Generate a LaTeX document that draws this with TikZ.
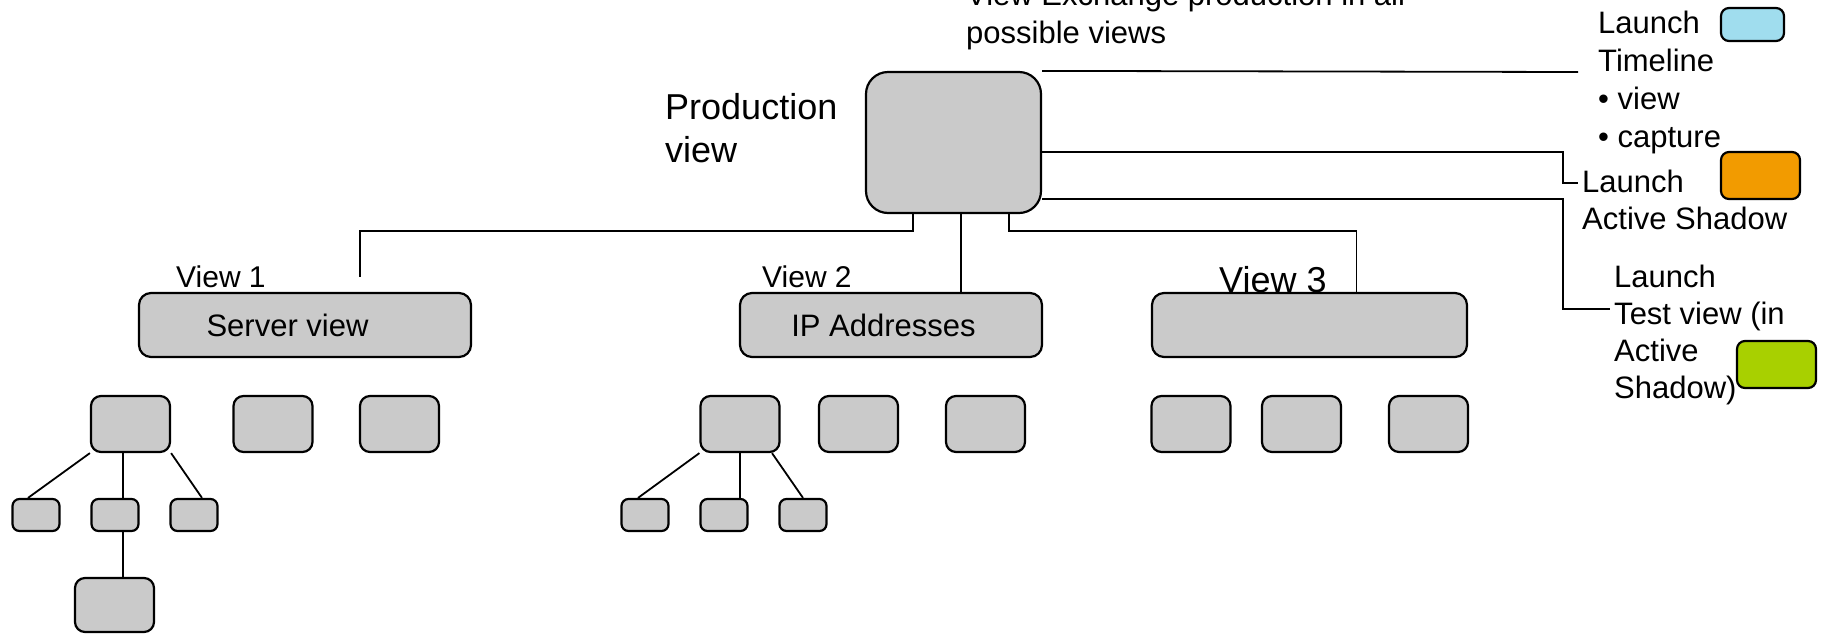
\documentclass[tikz,border=0pt]{standalone}
\usepackage{fontspec}
\setmainfont{Liberation Sans}
\usepackage{tikz}
\definecolor{boxgray}{HTML}{CACACA}
\definecolor{launchblue}{HTML}{A0DDEE}
\definecolor{launchorange}{HTML}{F29B00}
\definecolor{launchgreen}{HTML}{A8D000}

\begin{document}
\begin{tikzpicture}[x=1pt,y=-1pt]
\tikzset{box/.style = {shape=rectangle,draw,fill=boxgray,line width=2.2pt,inner sep=0pt}}
\tikzset{wide/.style = {box,minimum height=64pt,rounded corners=12pt}}
\tikzset{leaf/.style = {box,minimum width=79pt,minimum height=56pt,rounded corners=10pt}}
\tikzset{tiny/.style = {box,minimum width=47pt,minimum height=32pt,rounded corners=7pt}}
\tikzset{launch/.style = {box,minimum width=79pt,minimum height=47pt,rounded corners=8pt}}
\tikzset{txt/.style = {inner sep=0pt,align=left,font=\fontsize{31}{38}\selectfont}}
\tikzset{edge/.style = {-,line width=1.8pt}}
\useasboundingbox (0,0) rectangle (1823,633);
% vertices
\node[box,minimum width=175pt,minimum height=141pt,rounded corners=22pt] (prod) at (953.5,142.5) {};
\node[wide,minimum width=332pt] (srv) at (305,325) {};
\node[wide,minimum width=302pt] (ip)  at (891,325) {};
\node[wide,minimum width=315pt] (v3)  at (1309.5,325) {};
\node[leaf] (a1) at (130.5,424) {};
\node[leaf] (b1) at (273,424) {};
\node[leaf] (c1) at (399.5,424) {};
\node[tiny] (t1) at (36,515) {};
\node[tiny] (t2) at (115,515) {};
\node[tiny] (t3) at (194,515) {};
\node[leaf,minimum height=54pt] (low) at (114.5,605) {};
\node[leaf] (a2) at (740,424) {};
\node[leaf] (b2) at (858.5,424) {};
\node[leaf] (c2) at (985.5,424) {};
\node[tiny] (u1) at (645,515) {};
\node[tiny] (u2) at (724,515) {};
\node[tiny] (u3) at (803,515) {};
\node[leaf] (d1) at (1191,424) {};
\node[leaf] (d2) at (1301.5,424) {};
\node[leaf] (d3) at (1428.5,424) {};
\node[launch,minimum width=63pt,minimum height=33pt,fill=launchblue] (tlbox) at (1752.5,24.5) {};
\node[launch,fill=launchorange] (asbox) at (1760.5,175.5) {};
\node[launch,fill=launchgreen]  (tvbox) at (1776.5,364.5) {};
% labels
\node[txt,font=\fontsize{36}{43}\selectfont,anchor=north west] (pv) at (665,93) {Production\\view};
\node[txt,anchor=north west] (ve) at (966,-17.3) {View Exchange production in all\\possible views};
\node[txt,anchor=north west] (tl) at (1598,10.7) {Launch\\Timeline\\• view\\• capture};
\node[txt,font=\fontsize{31}{37}\selectfont,anchor=north west] (as) at (1582,169.7) {Launch\\Active Shadow};
\node[txt,font=\fontsize{31}{37}\selectfont,anchor=north west] (tv) at (1614,264.7) {Launch\\Test view (in\\Active\\Shadow)};
\node[txt,font=\fontsize{30}{36}\selectfont,anchor=base west] (v1l) at (176,287) {View 1};
\node[txt,font=\fontsize{30}{36}\selectfont,anchor=base west] (v2l) at (762,287) {View 2};
\node[txt,font=\fontsize{36}{43}\selectfont,anchor=base west] (v3l) at (1219,292) {View 3};
\node[txt] (srvl) at ([xshift=-17.5pt]srv.center) {Server view};
\node[txt] (ipl)  at ([xshift=-7.5pt]ip.center) {IP Addresses};
% free ends
\coordinate (tlend) at (1578,72);
\coordinate (k1) at (1563,183);
\coordinate (asend) at (1578,183);
\coordinate (k2) at (1563,309);
\coordinate (tvend) at (1610,309);
\coordinate (v1end) at (360,277);
%edges
\draw[edge] (prod.north east) to (tlend);
\draw[edge] ([yshift=-9.5pt]prod.east) -| (k1) -- (asend);
\draw[edge] ([yshift=-56.5pt]prod.east) -| (k2) -- (tvend);
\draw[edge] ([xshift=-40.5pt]prod.south) -- ++(0,17) -| (v1end);
\draw[edge] ([xshift=7.5pt]prod.south) -- ([xshift=7.5pt]prod.south |- ip.north);
\draw[edge] ([xshift=55.5pt]prod.south) -- ++(0,17) -| ([xshift=47pt]v3.north);
\draw[edge] (a1.south west) to ([xshift=-8pt]t1.north);
\draw[edge] ([xshift=-7.5pt]a1.south) to ([xshift=8pt]t2.north);
\draw[edge] (a1.south east) to ([xshift=8pt]t3.north);
\draw[edge] ([xshift=8pt]t2.south) to ([xshift=8.5pt]low.north);
\draw[edge] (a2.south west) to ([xshift=-7pt]u1.north);
\draw[edge] (a2.south) to ([xshift=16pt]u2.north);
\draw[edge] ([xshift=32pt]a2.south) to (u3.north);
\end{tikzpicture}
\end{document}
